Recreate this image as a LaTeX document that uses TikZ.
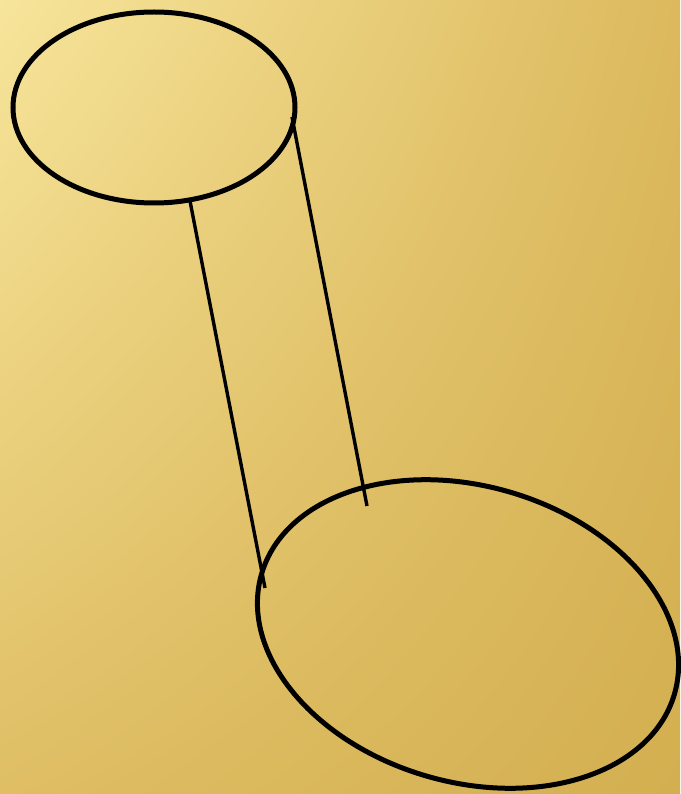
\documentclass[tikz,border=0pt]{standalone}
\usetikzlibrary{shadings}
\begin{document}
\begin{tikzpicture}[x=1pt,y=-1pt,
  shapeline/.style={line width=5pt},
  linkline/.style={line width=3.4pt}]
\definecolor{cTL}{HTML}{F7E59B}
\definecolor{cTR}{HTML}{DCB95D}
\definecolor{cBL}{HTML}{DFBE64}
\definecolor{cBR}{HTML}{D3AF50}
\useasboundingbox (0,0) rectangle (680,794);
\shade[upper left=cTL, upper right=cTR, lower left=cBL, lower right=cBR] (0,0) rectangle (680,794);
\draw[shapeline] (154,107.5) ellipse [x radius=141, y radius=95.5];
\draw[shapeline] (468,634) ellipse [x radius=215, y radius=148, rotate=-16.2];
\coordinate (a1) at (190,201);
\coordinate (a2) at (265,588);
\coordinate (b1) at (292,117);
\coordinate (b2) at (367,506);
\draw[linkline] (a1) -- (a2);
\draw[linkline] (b1) -- (b2);
\end{tikzpicture}
\end{document}
